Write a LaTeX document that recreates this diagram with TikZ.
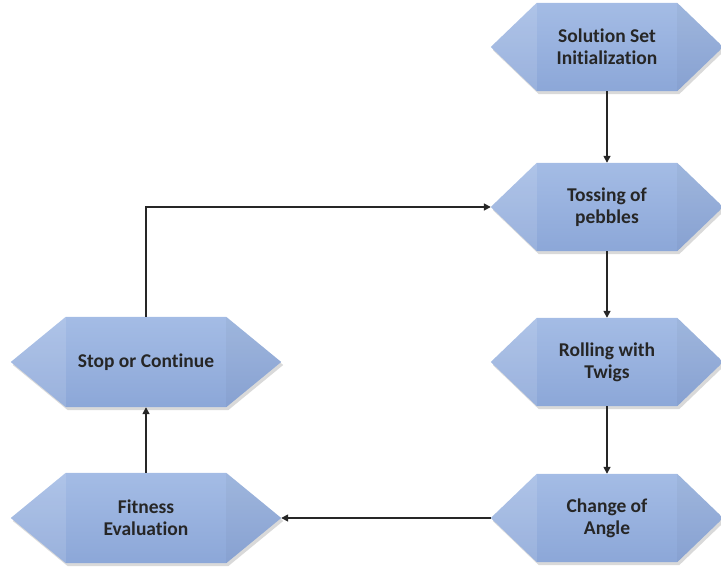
\documentclass[tikz,border=0pt]{standalone}
\usepackage{fontspec}
\setmainfont{Carlito}[Ligatures=NoCommon]
\usetikzlibrary{calc,arrows.meta}
\definecolor{hextop}{HTML}{A4BCE5}
\definecolor{hexbot}{HTML}{8CA7D8}
\tikzset{
  box/.style={draw=none, align=center, inner sep=0pt, font=\fontsize{19.5}{22}\selectfont\bfseries, text=black!85},
  arr/.style={draw=black!85, line width=1.6pt, -{Triangle[length=7pt,width=7pt]}},
}
\newcommand{\hexshape}[2]{%
  \fill[black, opacity=0.15] ($(#1.west)+(2,3)$) -- ($(#1.north west)+(#2+2,3)$) -- ($(#1.north east)+(-#2+2,3)$) -- ($(#1.east)+(2,3)$) -- ($(#1.south east)+(-#2+2,3)$) -- ($(#1.south west)+(#2+2,3)$) -- cycle;
  \shade[top color=hextop, bottom color=hexbot] (#1.west) -- ($(#1.north west)+(#2,0)$) -- ($(#1.north east)+(-#2,0)$) -- (#1.east) -- ($(#1.south east)+(-#2,0)$) -- ($(#1.south west)+(#2,0)$) -- cycle;
  \fill[white, opacity=0.12] (#1.west) -- ($(#1.north west)+(#2,0)$) -- ($(#1.south west)+(#2,0)$) -- cycle;
  \fill[black, opacity=0.03] (#1.east) -- ($(#1.north east)+(-#2,0)$) -- ($(#1.south east)+(-#2,0)$) -- cycle;
}
\begin{document}
\begin{tikzpicture}[x=1pt,y=-1pt]
\useasboundingbox (0,0) rectangle (721,567);
% right column nodes
\node[box, minimum width=232pt, minimum height=88pt] (s) at (607,47) {};
\node[box, minimum width=232pt, minimum height=88pt] (t) at (607,207) {};
\node[box, minimum width=232pt, minimum height=88pt] (r) at (607,362) {};
\node[box, minimum width=232pt, minimum height=88pt] (c) at (607,518) {};
% left column nodes
\node[box, minimum width=270pt, minimum height=90pt] (sc) at (146,362) {};
\node[box, minimum width=270pt, minimum height=90pt] (f) at (146,518) {};
\hexshape{s}{46}
\hexshape{t}{46}
\hexshape{r}{46}
\hexshape{c}{46}
\hexshape{sc}{55}
\hexshape{f}{55}
\node[box] at (s) {Solution Set\\Initialization};
\node[box] at (t) {Tossing of\\pebbles};
\node[box] at (r) {Rolling with\\Twigs};
\node[box] at (c) {Change of\\Angle};
\node[box] at (sc) {Stop or Continue};
\node[box] at (f) {Fitness\\Evaluation};
% connectors
\draw[arr] (s.south) -- (t.north);
\draw[arr] (t.south) -- (r.north);
\draw[arr] (r.south) -- (c.north);
\draw[arr] (c.west) -- (f.east);
\draw[arr] (f.north) -- (sc.south);
\draw[arr] (sc.north) |- (t.west);
\end{tikzpicture}
\end{document}
